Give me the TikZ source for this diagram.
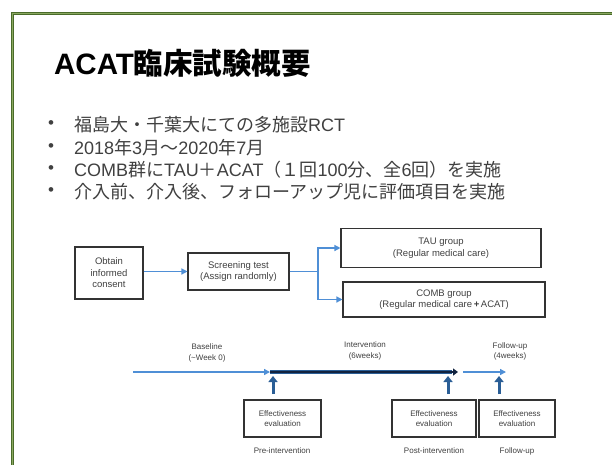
\documentclass[tikz,border=0pt]{standalone}
\usepackage{fontspec}
\setmainfont{Liberation Sans}
\newfontfamily\jp{Noto Sans CJK JP}
\newcommand\J[1]{{\jp #1}}
\usetikzlibrary{arrows.meta,positioning}
\definecolor{frameg}{HTML}{4A6B2A}
\definecolor{framel}{HTML}{8AA860}
\definecolor{lblue}{HTML}{4F8FD6}
\definecolor{navy}{HTML}{12233F}
\definecolor{ublue}{HTML}{2A5E96}
\definecolor{txt}{HTML}{404040}
\definecolor{boxd}{HTML}{333333}
\begin{document}
\begin{tikzpicture}[x=1pt,y=-1pt,
  bul/.style={anchor=west,inner sep=0pt,text=txt,font=\fontsize{18}{21}\selectfont},
  flowbox/.style={draw=boxd,line width=1.1pt,inner sep=0pt,align=center,text=txt,font=\fontsize{9.5}{11.5}\selectfont},
  evalbox/.style={draw=boxd,line width=1.1pt,inner sep=0pt,align=center,text=txt,font=\fontsize{8}{10.5}\selectfont,minimum height=37pt},
  lbl/.style={inner sep=0pt,align=center,text=txt,font=\fontsize{8}{10.5}\selectfont},
  bluearr/.style={draw=lblue,line width=1.3pt,-{Triangle[length=6pt,width=6pt]}},
  uparr/.style={draw=ublue,line width=3pt,-{Triangle[length=6pt,width=9pt]}}]
\useasboundingbox (0,0) rectangle (612,464);
\fill[white] (0,0) rectangle (612,464);
% frame
\draw[frameg,line width=3pt] (640,13) -- (12,13) -- (12,490);
\draw[framel,line width=0.8pt] (640,13) -- (12,13) -- (12,490);
% title
\node[anchor=west,inner sep=0pt,font=\bfseries\fontsize{29.5}{32}\selectfont] (title) at (54,63) {ACAT\J{臨床試験概要}};
% bullets
\foreach \y/\n in {125/1,147.3/2,169.6/3,192/4}{
  \node[bul,font=\fontsize{17}{20}\selectfont] (b\n) at (48,\y) {\textbullet};
}
\node[bul] (t1) at (74,125) {\J{福島大・千葉大にての多施設}RCT};
\node[bul] (t2) at (74,147.3) {2018\J{年}3\J{月～}2020\J{年}7\J{月}};
\node[bul] (t3) at (74,169.6) {COMB\J{群に}TAU\J{＋}ACAT\J{（１回}100\J{分、全}6\J{回）を実施}};
\node[bul] (t4) at (74,192) {\J{介入前、介入後、フォローアップ児に評価項目を実施}};
% flowchart
\node[flowbox,minimum width=68pt,minimum height=52pt] (consent) at (109,273) {Obtain\\informed\\consent};
\node[flowbox,minimum width=101pt,minimum height=37pt] (screen) at (238.5,271.5) {Screening test\\(Assign randomly)};
\node[flowbox,minimum width=200pt,minimum height=39pt] (tau) at (441,248) {TAU group\\(Regular medical care)};
\node[flowbox,minimum width=202pt,minimum height=35pt] (comb) at (444,299.5) {COMB group\\(Regular medical care\,{\bfseries+}\,ACAT)};
\coordinate (split) at (318,271.5);
\draw[bluearr] (consent.east |- screen.west) -- (screen.west);
\draw[lblue,line width=1.3pt] (screen.east) -- (split);
\draw[bluearr] (split) |- (tau.west);
\draw[bluearr] (split) |- (comb.west);
% timeline
\coordinate (t0) at (133,372);
\coordinate (t1c) at (270,372);
\coordinate (t2c) at (458,372);
\coordinate (t3a) at (463,372);
\coordinate (t3b) at (506,372);
\draw[bluearr,line width=1.4pt] (t0) -- (t1c);
\draw[draw=ublue,line width=4.2pt] (t1c) -- ([xshift=-6pt]t2c);
\draw[navy,line width=2.8pt,-{Triangle[length=5pt,width=7pt]}] (t1c) -- (t2c);
\draw[bluearr,line width=1.4pt] (t3a) -- (t3b);
\node[lbl] (base) at (207,353) {Baseline\\(\textasciitilde Week 0)};
\node[lbl] (interv) at (365,351) {Intervention\\(6weeks)};
\node[lbl] (fup) at (510,351.5) {Follow-up\\(4weeks)};
% eval boxes
\node[evalbox,minimum width=77pt] (e1) at (282.5,418.5) {Effectiveness\\evaluation};
\node[evalbox,minimum width=84pt] (e2) at (434,418.5) {Effectiveness\\evaluation};
\node[evalbox,minimum width=76pt] (e3) at (517,418.5) {Effectiveness\\evaluation};
\node[lbl] (pre) at (282,451) {Pre-intervention};
\node[lbl] (post) at (434,451) {Post-intervention};
\node[lbl] (fu) at (517,451) {Follow-up};
\coordinate (u1) at (273,394);
\coordinate (u2) at (448,394);
\coordinate (u3) at (499,394);
\draw[uparr] (u1) -- ([yshift=-4pt]u1 |- t1c);
\draw[uparr] (u2) -- ([yshift=-4pt]u2 |- t1c);
\draw[uparr] (u3) -- ([yshift=-4pt]u3 |- t1c);
\end{tikzpicture}
\end{document}
